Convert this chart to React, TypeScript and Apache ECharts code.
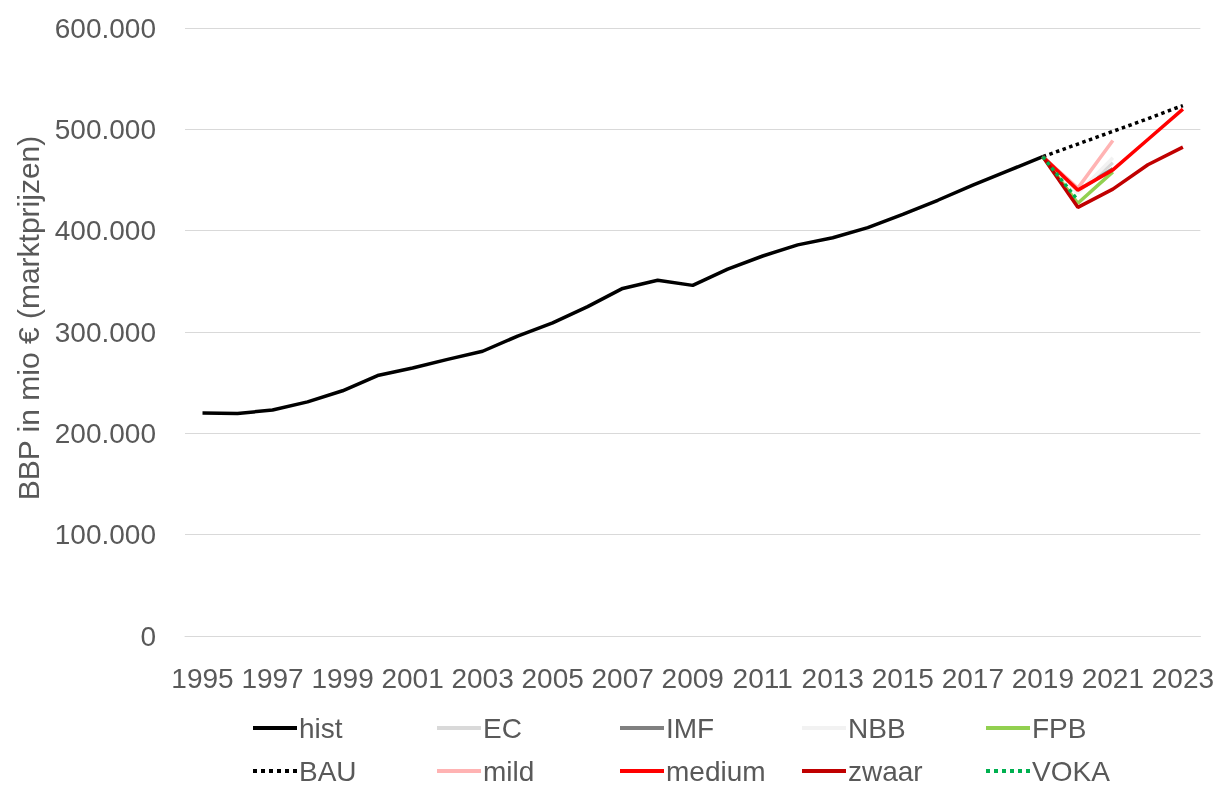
import React, { useEffect, useRef } from "react";
import * as echarts from "echarts";

const years = ["1995","1996","1997","1998","1999","2000","2001","2002","2003","2004","2005","2006","2007","2008","2009","2010","2011","2012","2013","2014","2015","2016","2017","2018","2019","2020","2021","2022","2023"];
const hist = [220000,219600,223000,231000,242000,257000,264500,273000,281000,296000,309000,325000,343000,351000,346000,362000,375000,386000,393000,403000,416000,430000,445000,459000,473000];
const ec = [473000, 438000, 467000];
const imf = [473000, 440000, 461000];
const nbb = [473000, 437000, 472000];
const fpb = [473000, 427000, 458000];
const bau = [473000, 485500, 498000, 510500, 523500];
const mild = [473000, 442000, 489000];
const medium = [473000, 440000, 460000, 490000, 520000];
const zwaar = [473000, 423000, 441000, 465000, 482500];
const voka = [473000, 430000];

const legendRow1 = ["hist", "EC", "IMF", "NBB", "FPB"];
const legendRow2 = ["BAU", "mild", "medium", "zwaar", "VOKA"];

const FONT = "'Liberation Sans', Arial, sans-serif";
const GRAY = "#595959";

function pad(arr: number[]) {
  const offset = years.indexOf("2019");
  const out: (number | null)[] = years.map(() => null);
  arr.forEach((v, i) => (out[offset + i] = v));
  return out;
}

export default function App() {
  const ref = useRef<HTMLDivElement>(null);
  useEffect(() => {
    const chart = echarts.init(ref.current!, undefined, { renderer: "svg" });
    const mk = (name: string, data: (number | null)[], color: string, type: string = "solid") => ({
      name,
      type: "line",
      data,
      showSymbol: false,
      symbol: "none",
      connectNulls: false,
      lineStyle: { color, width: 3.5, type },
      itemStyle: { color },
      z: 2,
    });
    const colLeft = [251, 435, 618, 800, 984];
    const legends: any[] = [];
    [legendRow1, legendRow2].forEach((row, r) => {
      row.forEach((name, c) => {
        legends.push({
          data: [name],
          left: colLeft[c],
          top: r === 0 ? 714 : 757,
          itemGap: 0,
          itemWidth: 44,
          itemHeight: 14,
          padding: 0,
          selectedMode: false,
          itemStyle: { opacity: 0 },
          lineStyle: { width: 4 },
          textStyle: { fontFamily: FONT, fontSize: 28, color: GRAY, padding: [0, 0, 0, -3] },
        });
      });
    });
    chart.setOption({
      animation: false,
      grid: { left: 185, right: 15, top: 28, bottom: 151, containLabel: false },
      xAxis: {
        type: "category",
        data: years,
        boundaryGap: true,
        axisLine: { lineStyle: { color: "#d9d9d9", width: 1 } },
        axisTick: { show: false },
        axisLabel: { interval: 1, color: GRAY, fontFamily: FONT, fontSize: 28, margin: 28 },
      },
      yAxis: {
        type: "value",
        min: 0,
        max: 600000,
        interval: 100000,
        name: "BBP in mio € (marktprijzen)",
        nameLocation: "middle",
        nameGap: 140,
        nameTextStyle: { color: GRAY, fontFamily: FONT, fontSize: 30, padding: [0, 0, 0, 28] },
        axisLine: { show: false },
        axisTick: { show: false },
        splitLine: { lineStyle: { color: "#d9d9d9", width: 1 } },
        axisLabel: {
          color: GRAY,
          fontFamily: FONT,
          fontSize: 28,
          margin: 29,
          formatter: (v: number) => (v === 0 ? "0" : String(v).replace(/\B(?=(\d{3})+(?!\d))/g, ".")),
        },
      },
      legend: legends,
      series: [
        mk("hist", hist, "#000000"),
        mk("EC", pad(ec), "#d9d9d9"),
        mk("IMF", pad(imf), "#808080"),
        mk("NBB", pad(nbb), "#f2f2f2"),
        mk("FPB", pad(fpb), "#92d050"),
        mk("BAU", pad(bau), "#000000", "dotted"),
        mk("mild", pad(mild), "#ffb3b3"),
        mk("medium", pad(medium), "#ff0000"),
        mk("zwaar", pad(zwaar), "#c00000"),
        mk("VOKA", pad(voka), "#00b050", "dotted"),
      ],
    });
    return () => chart.dispose();
  }, []);
  return <div ref={ref} style={{ position: "fixed", left: 0, top: 0, width: 1217, height: 787 }} />;
}
